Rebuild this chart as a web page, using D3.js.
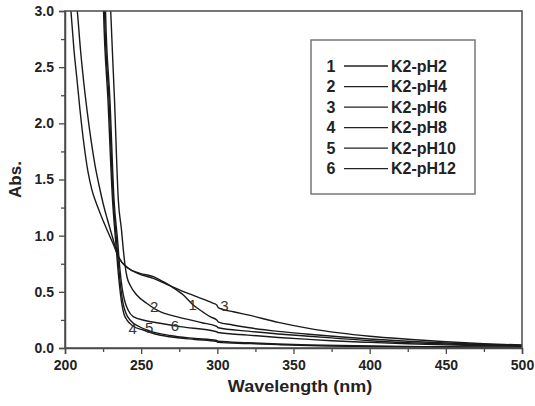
<!DOCTYPE html>
<html>
<head>
<meta charset="utf-8">
<script src="https://cdn.jsdelivr.net/npm/d3@7"></script>
<style>
  html, body { margin: 0; padding: 0; background: #fff; }
  svg { display: block; }
  text { font-family: "Liberation Sans", Arial, sans-serif; }
</style>
</head>
<body>
<svg id="chart" width="535" height="406"></svg>
<script>
// ---- data (wavelength nm, absorbance) ----
const seriesNames = ["K2-pH2", "K2-pH4", "K2-pH6", "K2-pH8", "K2-pH10", "K2-pH12"];
const seriesIds = ["1", "2", "3", "4", "5", "6"];

const wl1 = [202.6, 203.9, 205.9, 207.9, 209.85, 212.5, 215.1, 217.7, 221.0, 224.3, 228.2, 232.2, 234.8, 241.55, 249.2, 258.0, 264.5, 270.0, 277.7, 284.2, 290.6, 295.2, 299.6, 300.8, 310, 320, 340, 360, 380, 400, 425, 450, 475, 500];
const ab1 = [3.19, 3.0, 2.653, 2.386, 2.119, 1.807, 1.567, 1.406, 1.273, 1.157, 1.033, 0.908, 0.819, 0.71, 0.665, 0.635, 0.59, 0.546, 0.472, 0.383, 0.32, 0.279, 0.249, 0.231, 0.205, 0.182, 0.148, 0.122, 0.10, 0.08, 0.06, 0.044, 0.032, 0.023];

const wl2 = [229.5, 230.0, 232.5, 235.0, 237.1, 238.3, 239.4, 240.7, 242.7, 247.1, 253.6, 262.4, 270, 282, 290, 299.6, 300.6, 320, 340, 360, 375, 400, 425, 450, 475, 500];
const ab2 = [3.187, 3.0, 2.208, 1.318, 1.05, 0.872, 0.739, 0.632, 0.561, 0.472, 0.398, 0.323, 0.29, 0.25, 0.225, 0.192, 0.18, 0.15, 0.125, 0.105, 0.09, 0.065, 0.048, 0.036, 0.027, 0.02];

const wl3 = [206.56, 208.07, 210.18, 212.14, 214.44, 217.07, 219.69, 222.32, 224.94, 227.57, 230.2, 232.8, 234.8, 241.55, 249.2, 258.0, 266.8, 275.5, 286.4, 297.4, 299.6, 300.6, 310.5, 320, 340, 360, 380, 400, 425, 450, 475, 500];
const ab3 = [3.187, 3.0, 2.653, 2.386, 2.119, 1.852, 1.629, 1.451, 1.291, 1.157, 1.033, 0.908, 0.819, 0.71, 0.656, 0.62, 0.567, 0.516, 0.457, 0.398, 0.383, 0.36, 0.323, 0.295, 0.228, 0.175, 0.135, 0.105, 0.078, 0.055, 0.038, 0.027];

const wl4 = [224.95, 225.3, 228.2, 231.2, 233.2, 234.8, 236.1, 237.4, 238.7, 240.7, 244.6, 251.4, 259.1, 268.9, 285.3, 299.6, 300.4, 320, 340, 360, 400, 450, 500];
const ab4 = [3.187, 3.0, 2.208, 1.318, 0.961, 0.694, 0.516, 0.383, 0.303, 0.249, 0.196, 0.16, 0.125, 0.10, 0.076, 0.058, 0.05, 0.04, 0.03, 0.022, 0.014, 0.008, 0.005];

const wl5 = [225.6, 225.9, 228.9, 231.7, 233.8, 235.4, 236.8, 238.1, 240.0, 243.3, 249.2, 255.8, 268.9, 285.3, 299.6, 300.4, 320, 340, 360, 400, 450, 500];
const ab5 = [3.187, 3.0, 2.208, 1.318, 0.961, 0.694, 0.516, 0.40, 0.31, 0.24, 0.187, 0.151, 0.111, 0.085, 0.067, 0.06, 0.047, 0.036, 0.028, 0.018, 0.011, 0.007];

const wl6 = [226.3, 226.6, 229.5, 232.2, 234.5, 236.1, 237.7, 239.4, 241.4, 244.8, 252.5, 262.4, 275.5, 299.6, 300.4, 320, 340, 360, 375, 400, 425, 450, 475, 500];
const ab6 = [3.187, 3.0, 2.208, 1.318, 0.961, 0.694, 0.516, 0.41, 0.338, 0.279, 0.245, 0.22, 0.19, 0.145, 0.138, 0.115, 0.094, 0.077, 0.065, 0.05, 0.038, 0.028, 0.02, 0.015];

const seriesX = [wl1, wl2, wl3, wl4, wl5, wl6];
const seriesY = [ab1, ab2, ab3, ab4, ab5, ab6];

// in-plot curve number labels (nm, abs)
const labelText = ["1", "2", "3", "4", "5", "6"];
const labelNm = [283.8, 258.6, 304.6, 244.4, 255.3, 272.2];
const labelAbs = [0.383, 0.365, 0.374, 0.17, 0.185, 0.20];

const xTicks = [200, 250, 300, 350, 400, 450, 500];
const xMinor = [225, 275, 325, 375, 425, 475];
const yTicks = [0.0, 0.5, 1.0, 1.5, 2.0, 2.5, 3.0];
const yMinor = [0.25, 0.75, 1.25, 1.75, 2.25, 2.75];

const xTitle = "Wavelength (nm)";
const yTitle = "Abs.";

// ---- layout ----
const L = 65, R = 522, T = 11, B = 348;
const svg = d3.select("#chart");
const x = d3.scaleLinear().domain([200, 500]).range([L, R]);
const y = d3.scaleLinear().domain([0, 3]).range([B, T]);
const axisColor = "#4a4a4a";

svg.append("defs").append("clipPath").attr("id", "clip")
  .append("rect").attr("x", L).attr("y", T).attr("width", R - L).attr("height", B - T);

// curves
const line = d3.line().x(d => x(d[0])).y(d => y(d[1])).curve(d3.curveMonotoneX);
const gCurves = svg.append("g").attr("clip-path", "url(#clip)");
seriesX.forEach((xs, i) => {
  const pts = xs.map((v, j) => [v, seriesY[i][j]]);
  gCurves.append("path").datum(pts)
    .attr("d", line)
    .attr("fill", "none")
    .attr("stroke", "#1a1a1a")
    .attr("stroke-width", 1.4);
});

// frame
svg.append("rect").attr("x", L).attr("y", T).attr("width", R - L).attr("height", B - T)
  .attr("fill", "none").attr("stroke", axisColor).attr("stroke-width", 1.5);

// x axis
const xAxis = svg.append("g").attr("transform", `translate(0,${B})`)
  .call(d3.axisBottom(x).tickValues(xTicks).tickSize(6).tickPadding(6).tickFormat(d3.format("d")));
xAxis.select(".domain").attr("stroke", axisColor).attr("stroke-width", 1.5);
xAxis.selectAll(".tick line").attr("stroke", axisColor).attr("stroke-width", 1.3);
xAxis.selectAll("text").attr("font-size", 14).attr("font-weight", "bold").attr("fill", "#222")
  .attr("font-family", "Liberation Sans, Arial, sans-serif");
const xAxisMinor = svg.append("g").attr("transform", `translate(0,${B})`)
  .call(d3.axisBottom(x).tickValues(xMinor).tickSize(4).tickFormat(""));
xAxisMinor.select(".domain").remove();
xAxisMinor.selectAll(".tick line").attr("stroke", axisColor).attr("stroke-width", 1.3);

// y axis
const yAxis = svg.append("g").attr("transform", `translate(${L},0)`)
  .call(d3.axisLeft(y).tickValues(yTicks).tickSize(6).tickPadding(5).tickFormat(d3.format(".1f")));
yAxis.select(".domain").attr("stroke", axisColor).attr("stroke-width", 1.5);
yAxis.selectAll(".tick line").attr("stroke", axisColor).attr("stroke-width", 1.3);
yAxis.selectAll("text").attr("font-size", 14).attr("font-weight", "bold").attr("fill", "#222")
  .attr("font-family", "Liberation Sans, Arial, sans-serif");
const yAxisMinor = svg.append("g").attr("transform", `translate(${L},0)`)
  .call(d3.axisLeft(y).tickValues(yMinor).tickSize(4).tickFormat(""));
yAxisMinor.select(".domain").remove();
yAxisMinor.selectAll(".tick line").attr("stroke", axisColor).attr("stroke-width", 1.3);

// axis titles
svg.append("text").attr("transform", `translate(300,392) scale(1.06,1)`)
  .attr("text-anchor", "middle").attr("font-size", 17).attr("font-weight", "bold").attr("fill", "#222")
  .text(xTitle);
svg.append("text").attr("transform", `translate(21,${(T + B) / 2}) rotate(-90)`)
  .attr("text-anchor", "middle").attr("font-size", 17).attr("font-weight", "bold").attr("fill", "#222")
  .text(yTitle);

// in-plot labels
labelText.forEach((t, i) => {
  svg.append("text").attr("x", x(labelNm[i])).attr("y", y(labelAbs[i]))
    .attr("dy", "0.36em").attr("text-anchor", "middle")
    .attr("font-size", 15).attr("fill", "#333").text(t);
});

// legend
const lg = svg.append("g");
lg.append("rect").attr("x", 311).attr("y", 40).attr("width", 164).attr("height", 154)
  .attr("fill", "#fff").attr("stroke", "#777").attr("stroke-width", 1.5);
const rowY = d3.scaleLinear().domain([0, 5]).range([66, 168.7]);
seriesNames.forEach((name, i) => {
  const yy = rowY(i);
  lg.append("text").attr("x", 331).attr("y", yy).attr("dy", "0.36em").attr("text-anchor", "middle")
    .attr("font-size", 16).attr("font-weight", "bold").attr("fill", "#222").text(seriesIds[i]);
  lg.append("line").attr("x1", 344).attr("x2", 388).attr("y1", yy).attr("y2", yy)
    .attr("stroke", "#222").attr("stroke-width", 1.3);
  lg.append("text").attr("x", 391).attr("y", yy).attr("dy", "0.36em")
    .attr("font-size", 16).attr("font-weight", "bold").attr("fill", "#222").text(name);
});
</script>
</body>
</html>
